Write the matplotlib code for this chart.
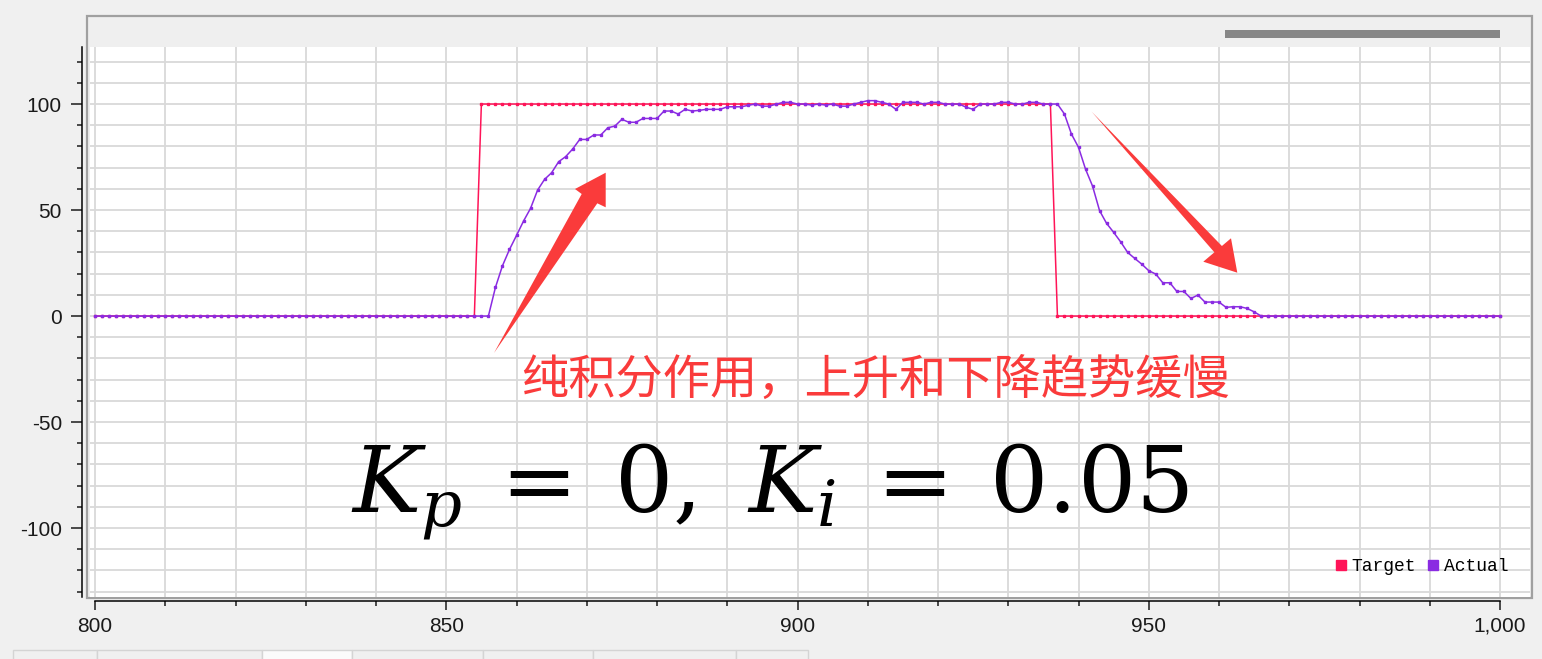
import numpy as np
import matplotlib
matplotlib.use('Agg')
import matplotlib.pyplot as plt
from matplotlib.patches import Rectangle, Polygon
from matplotlib.lines import Line2D
from matplotlib.ticker import MultipleLocator, FuncFormatter

plt.rcParams['font.family'] = ['Liberation Sans', 'DejaVu Sans']
plt.rcParams['axes.unicode_minus'] = False
plt.rcParams['mathtext.fontset'] = 'dejavuserif'

# ---- data (sample index 800..1000) ----
samples = np.arange(800, 1001)

target = np.array([0] * 55 + [100] * 82 + [0] * 64)   # 800-854, 855-936, 937-1000

actual_rise = [13.5, 23.7, 31.4, 38.0, 44.8, 50.8, 59.4, 64.5, 67.6, 72.8,
               75.2, 78.8, 83.3, 83.3, 85.4, 85.4, 88.8, 89.6, 92.8, 91.4,
               91.4, 93.2, 93.2, 93.2, 96.7, 96.7, 95.3, 97.5, 96.7, 97.0,
               97.5, 97.5, 97.5, 98.7, 98.7, 98.7, 99.4]            # 857-893
actual_hold = [100, 99.0, 99.0, 100, 100.8, 100.8, 100, 100, 99.5, 100,
               99.5, 100, 99.0, 99.0, 100, 100.8, 101.6, 101.6, 100.8, 100,
               97.5, 100.8, 100.8, 100.8, 100, 100.8, 100.8, 100, 100, 100,
               98.5, 97.5, 100, 100, 100, 100.8, 100.8, 100, 100, 100.8,
               100.8, 100, 100, 100]                                 # 894-937
actual_fall = [95.3, 85.8, 79.6, 69.3, 61.3, 49.7, 43.7, 39.5, 35.0, 30.0,
               27.2, 24.5, 21.4, 19.8, 15.7, 15.7, 11.6, 11.6, 8.3, 9.9,
               6.6, 6.6, 6.6, 4.1, 4.4, 4.4, 3.6, 2.0]               # 938-965
actual = np.array([0] * 57 + actual_rise + actual_hold + actual_fall + [0] * 35)

c_target = '#ff1458'
c_actual = '#8a2be2'
c_note = '#fa3b3b'

W, H = 1542, 659
fig = plt.figure(figsize=(W / 100, H / 100), dpi=100)
fig.patch.set_facecolor('#f0f0f0')


def px(x, y):
    # pixel position -> figure fraction
    return (x / W, 1 - y / H)


# widget frame, header strip and scrollbar
fig.add_artist(Rectangle(px(87, 598), 1445 / W, 582 / H, transform=fig.transFigure,
                         facecolor='#efefef', edgecolor='#a0a0a0', lw=1.6, zorder=-2))
fig.add_artist(Rectangle(px(1225, 38), 275 / W, 8 / H, transform=fig.transFigure,
                         facecolor='#878787', edgecolor='none', zorder=-1))
# tab bar at the bottom
for x0, x1, sel in [(13, 97, False), (97, 262, False), (262, 352, True), (352, 483, False),
                    (483, 593, False), (593, 736, False), (736, 808, False)]:
    fig.add_artist(Rectangle(px(x0, 665), (x1 - x0) / W, 15 / H, transform=fig.transFigure,
                             facecolor='#fbfbfb' if sel else '#f0f0f0',
                             edgecolor='#d4d4d4', lw=1, zorder=-1))

ax = fig.add_axes([90 / W, 1 - 597 / H, 1440 / W, 550 / H])
ax.set_facecolor('white')

ax.plot(samples, target, color=c_target, lw=1.1, marker='s', ms=1.5, zorder=3)
ax.plot(samples, actual, color=c_actual, lw=1.1, marker='s', ms=1.5, zorder=4)

ax.set_xlim(800 - 5 / 7.025, 800 + 1435 / 7.025)
ax.set_ylim(-132.5, 126.9)

ax.xaxis.set_major_locator(MultipleLocator(50))
ax.xaxis.set_minor_locator(MultipleLocator(10))
ax.yaxis.set_major_locator(MultipleLocator(50))
ax.yaxis.set_minor_locator(MultipleLocator(10))
ax.xaxis.set_major_formatter(FuncFormatter(lambda v, p: f'{v:,.0f}'))
ax.grid(which='both', color='#d9d9d9', lw=1.3, zorder=0)
ax.set_axisbelow(True)

for s in ['top', 'right']:
    ax.spines[s].set_visible(False)
ax.spines['left'].set_position(('outward', 5.8))
ax.spines['bottom'].set_position(('outward', 2.9))
ax.spines['bottom'].set_bounds(800, 1000)
ax.spines['left'].set_linewidth(1.1)
ax.spines['bottom'].set_linewidth(1.1)

ax.tick_params(which='major', length=7.9, width=1.1, labelsize=15, colors='#1a1a1a')
ax.tick_params(axis='y', which='major', pad=6.5)
ax.tick_params(axis='x', which='major', length=6.5, pad=5)
ax.tick_params(which='minor', length=3.4, width=1.1, colors='#1a1a1a')

handles = [Line2D([], [], ls='none', marker='s', ms=7.5, color=c_target, label='Target'),
           Line2D([], [], ls='none', marker='s', ms=7.5, color=c_actual, label='Actual')]
ax.legend(handles=handles, ncol=2, loc='lower right', bbox_to_anchor=(0.985, 0.04),
          frameon=False, borderaxespad=0, borderpad=0, handlelength=0.7,
          handletextpad=0.25, columnspacing=0.6,
          prop={'family': 'Liberation Mono', 'size': 13})

# annotation arrows
rise_arrow = [(494, 353), (581.7, 194), (575, 189), (605.7, 172.7), (605.7, 207.3), (597.3, 203.3)]
fall_arrow = [(1091.7, 111.7), (1221.9, 246.0), (1231, 238.3), (1237.3, 272.7), (1203.3, 261.7), (1214.4, 252.3)]
for pts in (rise_arrow, fall_arrow):
    fig.add_artist(Polygon([px(*p) for p in pts], closed=True, transform=fig.transFigure,
                           facecolor=c_note, edgecolor='none', zorder=5))

fig.text(*px(875.5, 395), '纯积分作用，上升和下降趋势缓慢', color=c_note, fontsize=34,
         ha='center', va='baseline', family=['Noto Sans CJK SC', 'DejaVu Sans'], zorder=6)
fig.text(*px(770, 513), r'$K_p\:=\:0,\ K_i\:=\:0.05$', color='black', fontsize=66,
         ha='center', va='baseline', zorder=6)

fig.savefig('out.png', dpi=100, facecolor=fig.get_facecolor())
